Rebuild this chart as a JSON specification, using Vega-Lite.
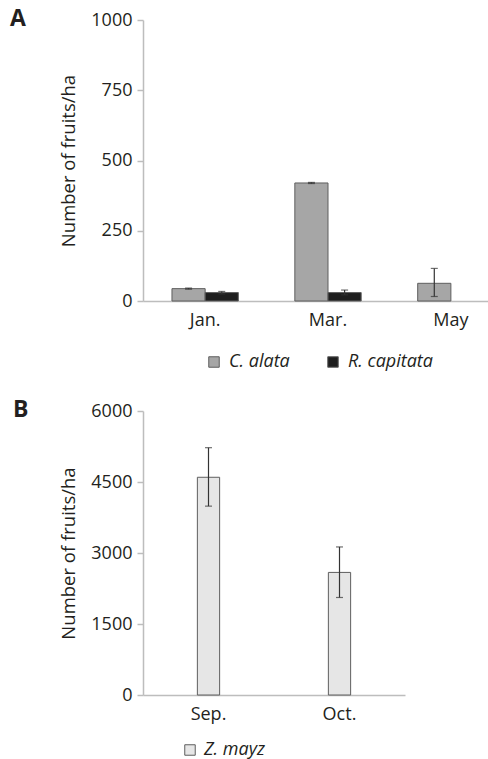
{
  "$schema": "https://vega.github.io/schema/vega-lite/v6.json",
  "padding": {"left": 10, "top": 8, "right": 0, "bottom": 0},
  "spacing": 28,
  "resolve": {"scale": {"fill": "independent"}, "legend": {"fill": "independent"}},
  "config": {
    "font": "Open Sans",
    "view": {"stroke": null},
    "axis": {
      "grid": false,
      "domainColor": "#bdbdbd",
      "domainWidth": 1.5,
      "tickColor": "#bdbdbd",
      "tickWidth": 1.5,
      "labelColor": "#231f20",
      "titleColor": "#231f20",
      "labelFontSize": 18,
      "titleFontSize": 18.5,
      "titleFontWeight": "normal",
      "labelFont": "Open Sans",
      "titleFont": "Open Sans"
    },
    "legend": {"labelFont": "Open Sans", "labelFontSize": 18, "labelFontStyle": "italic", "labelColor": "#231f20"},
    "title": {"font": "Open Sans", "fontSize": 23, "fontWeight": "bold", "color": "#231f20"}
  },
  "vconcat": [
    {
      "width": 345,
      "height": 281,
      "title": {"text": "A", "anchor": "start", "frame": "group", "dx": -133, "dy": 32, "offset": 12, "baseline": "top"},
      "data": {"values": [
        {"month": "Jan.", "species": "C. alata", "value": 44, "low": 42, "high": 46},
        {"month": "Jan.", "species": "R. capitata", "value": 30, "low": 25, "high": 34},
        {"month": "Mar.", "species": "C. alata", "value": 420, "low": 418, "high": 422},
        {"month": "Mar.", "species": "R. capitata", "value": 30, "low": 22, "high": 39},
        {"month": "May", "species": "C. alata", "value": 63, "low": 16, "high": 116}
      ]},
      "encoding": {
        "x": {"field": "month", "type": "nominal", "sort": ["Jan.", "Mar.", "May"],
              "scale": {"paddingInner": 0.46, "paddingOuter": 0.134, "align": 0.88},
              "axis": {"title": null, "ticks": false, "labelAngle": 0, "labelPadding": 10}},
        "xOffset": {"field": "species", "type": "nominal", "scale": {"domain": ["C. alata", "R. capitata"], "paddingInner": 0, "paddingOuter": 0}}
      },
      "layer": [
        {
          "mark": {"type": "bar", "stroke": "#5e5e5e", "strokeWidth": 1},
          "encoding": {
            "y": {"field": "value", "type": "quantitative", "scale": {"domain": [0, 1000]},
                  "axis": {"values": [0, 250, 500, 750, 1000], "format": "d", "title": "Number of fruits/ha", "tickSize": 6, "labelPadding": 5, "titlePadding": 12}},
            "fill": {"field": "species", "type": "nominal",
                     "scale": {"domain": ["C. alata", "R. capitata"], "range": ["#a6a6a6", "#1e1e1e"]},
                     "legend": {"title": null, "orient": "none", "direction": "horizontal", "legendX": 62, "legendY": 333,
                                "symbolType": "square", "symbolSize": 110, "symbolStrokeColor": "#5e5e5e", "symbolStrokeWidth": 1,
                                "labelOffset": 6, "columnPadding": 34}}
          }
        },
        {
          "mark": {"type": "rule", "color": "#333333", "strokeWidth": 1.2},
          "encoding": {"y": {"field": "low", "type": "quantitative"}, "y2": {"field": "high"}}
        },
        {
          "mark": {"type": "tick", "color": "#333333", "size": 7, "thickness": 1.2, "orient": "horizontal"},
          "encoding": {"y": {"field": "high", "type": "quantitative"}}
        },
        {
          "mark": {"type": "tick", "color": "#333333", "size": 7, "thickness": 1.2, "orient": "horizontal"},
          "encoding": {"y": {"field": "low", "type": "quantitative"}}
        }
      ]
    },
    {
      "width": 262,
      "height": 284,
      "title": {"text": "B", "anchor": "start", "frame": "group", "dx": -130, "dy": 32, "offset": 12, "baseline": "top"},
      "data": {"values": [
        {"month": "Sep.", "species": "Z. mayz", "value": 4600, "low": 3990, "high": 5225},
        {"month": "Oct.", "species": "Z. mayz", "value": 2590, "low": 2060, "high": 3128}
      ]},
      "encoding": {
        "x": {"field": "month", "type": "nominal", "sort": ["Sep.", "Oct."],
              "scale": {"paddingInner": 0.83, "paddingOuter": 0.415},
              "axis": {"title": null, "ticks": false, "labelAngle": 0, "labelPadding": 10}}
      },
      "layer": [
        {
          "mark": {"type": "bar", "stroke": "#5e5e5e", "strokeWidth": 1},
          "encoding": {
            "y": {"field": "value", "type": "quantitative", "scale": {"domain": [0, 6000]},
                  "axis": {"values": [0, 1500, 3000, 4500, 6000], "format": "d", "title": "Number of fruits/ha", "tickSize": 6, "labelPadding": 5, "titlePadding": 12}},
            "fill": {"field": "species", "type": "nominal",
                     "scale": {"domain": ["Z. mayz"], "range": ["#e6e6e6"]},
                     "legend": {"title": null, "orient": "none", "direction": "horizontal", "legendX": 38, "legendY": 330,
                                "symbolType": "square", "symbolSize": 110, "symbolStrokeColor": "#5e5e5e", "symbolStrokeWidth": 1,
                                "labelOffset": 5}}
          }
        },
        {
          "mark": {"type": "rule", "color": "#333333", "strokeWidth": 1.2},
          "encoding": {"y": {"field": "low", "type": "quantitative"}, "y2": {"field": "high"}}
        },
        {
          "mark": {"type": "tick", "color": "#333333", "size": 7, "thickness": 1.2, "orient": "horizontal"},
          "encoding": {"y": {"field": "high", "type": "quantitative"}}
        },
        {
          "mark": {"type": "tick", "color": "#333333", "size": 7, "thickness": 1.2, "orient": "horizontal"},
          "encoding": {"y": {"field": "low", "type": "quantitative"}}
        }
      ]
    }
  ]
}
